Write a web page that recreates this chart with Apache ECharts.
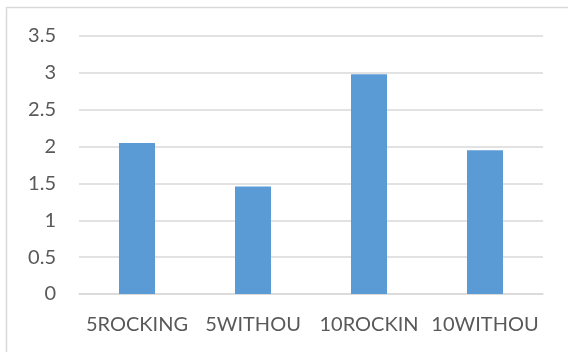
<!DOCTYPE html>
<html>
<head>
<meta charset="utf-8">
<script src="https://cdn.jsdelivr.net/npm/echarts@6/dist/echarts.min.js"></script>
<style>
  html, body { margin: 0; padding: 0; background: #ffffff; }
  #chart { width: 568px; height: 352px; }
</style>
</head>
<body>
<div id="chart"></div>
<script>
// Category names along the horizontal axis
const categories = ['5ROCKING', '5WITHOU', '10ROCKIN', '10WITHOU'];
// Bar heights, one per category
const values = [2.05, 1.46, 2.98, 1.95];
// Value axis range and step
const yMin = 0;
const yMax = 3.5;
const yStep = 0.5;

const textColor = '#595959';
const lineColor = '#d9d9d9';
const fontFamily = 'Lato, "Liberation Sans", sans-serif';

const chart = echarts.init(document.getElementById('chart'), null, { renderer: 'canvas' });

chart.setOption({
  backgroundColor: '#ffffff',
  animation: false,
  grid: { left: 79, right: 25, top: 36, bottom: 58, containLabel: false },
  xAxis: {
    type: 'category',
    data: categories,
    axisLine: { show: true, lineStyle: { color: lineColor, width: 1.5 } },
    axisTick: { show: false },
    axisLabel: { color: textColor, fontSize: 20, fontFamily: fontFamily, margin: 21, interval: 0 }
  },
  yAxis: {
    type: 'value',
    min: yMin,
    max: yMax,
    interval: yStep,
    axisLine: { show: false },
    axisTick: { show: false },
    axisLabel: { color: textColor, fontSize: 20, fontFamily: fontFamily, margin: 23 },
    splitLine: { show: true, lineStyle: { color: lineColor, width: 1.5 } }
  },
  series: [{
    type: 'bar',
    data: values,
    barWidth: 36,
    itemStyle: { color: '#5b9bd5' }
  }],
  graphic: [{
    type: 'rect',
    shape: { x: 6.5, y: 7.5, width: 700, height: 500 },
    style: { fill: 'none', stroke: lineColor, lineWidth: 1.5 },
    silent: true
  }]
});
</script>
</body>
</html>
